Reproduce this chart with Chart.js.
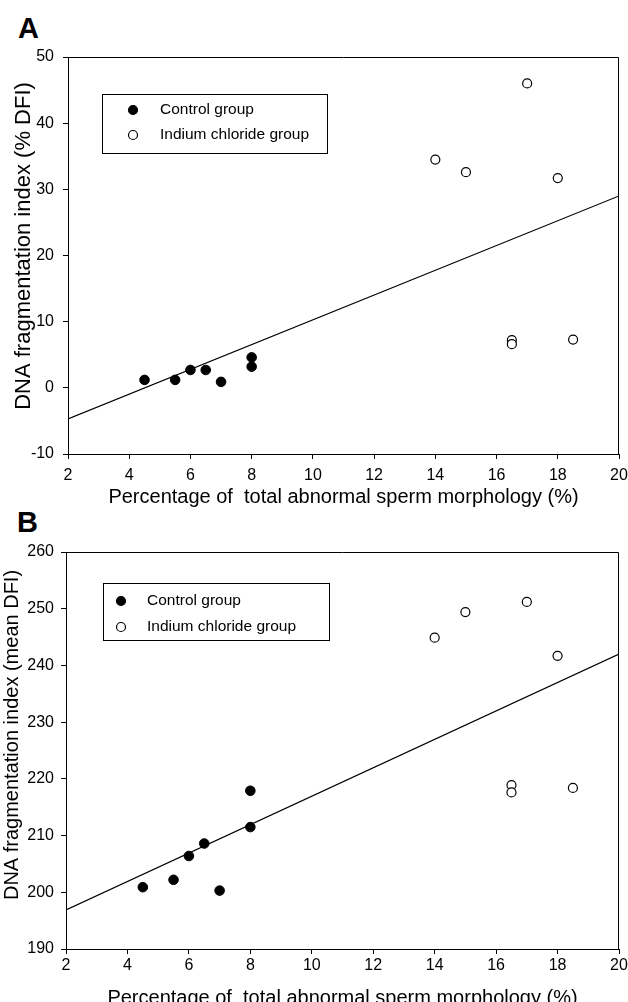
<!DOCTYPE html>
<html>
<head>
<meta charset="utf-8">
<script src="https://cdn.jsdelivr.net/npm/chart.js@4.4.1/dist/chart.umd.min.js"></script>
<style>
  html, body { margin: 0; padding: 0; background: #fff; overflow: hidden; }
  body { width: 628px; height: 1002px; position: relative; font-family: "Liberation Sans", Arial, sans-serif; }
  .panel { position: absolute; left: 0; }
  .tag { position: absolute; font-weight: bold; font-size: 29px; line-height: 29px; color: #000; }
</style>
</head>
<body>
<div class="tag" style="left:18px; top:14px">A</div>
<div class="tag" style="left:17px; top:508px">B</div>
<canvas id="chartA" class="panel" width="628" height="515" style="top:0"></canvas>
<canvas id="chartB" class="panel" width="628" height="520" style="top:500px"></canvas>
<script>
// morphology (%) on x, DNA fragmentation on y
const controlMorph = [4.5, 5.5, 6, 6.5, 7, 8, 8];
const indiumMorph = [14, 15, 16.5, 16.5, 17, 18, 18.5];
const controlPctDfi = [1.2, 1.2, 2.7, 2.7, 0.9, 4.6, 3.2];
const indiumPctDfi = [34.5, 32.6, 7.2, 6.6, 46.0, 31.7, 7.3];
const controlMeanDfi = [200.9, 202.2, 206.4, 208.6, 200.3, 217.9, 211.5];
const indiumMeanDfi = [244.9, 249.4, 218.9, 217.6, 251.2, 241.7, 218.4];
// regression line ends
const fitMorph = [2, 20];
const fitPctDfi = [-4.7, 29.0];
const fitMeanDfi = [196.9, 242.0];

const xTickValues = [2, 4, 6, 8, 10, 12, 14, 16, 18, 20];
const pctTickValues = [-10, 0, 10, 20, 30, 40, 50];
const meanTickValues = [190, 200, 210, 220, 230, 240, 250, 260];
const groupLabels = ['Control group', 'Indium chloride group'];
const xTitle = 'Percentage of  total abnormal sperm morphology (%)';

Chart.defaults.font.family = '"Liberation Sans", Arial, sans-serif';
Chart.defaults.color = '#000';

const toPoints = (xs, ys) => xs.map((x, i) => ({ x: x, y: ys[i] }));

const frame = {
  id: 'frame',
  afterDraw(chart) {
    const { ctx, chartArea: a } = chart;
    ctx.save();
    ctx.strokeStyle = '#000';
    ctx.lineWidth = 1;
    ctx.beginPath();
    ctx.moveTo(Math.round(a.left) + 0.5, Math.round(a.top) + 0.5);
    ctx.lineTo(Math.round(a.right) - 0.5, Math.round(a.top) + 0.5);
    ctx.lineTo(Math.round(a.right) - 0.5, Math.round(a.bottom));
    ctx.stroke();
    ctx.restore();
  }
};

const groupBox = {
  id: 'groupBox',
  afterDatasetsDraw(chart, args, opts) {
    const { ctx, chartArea } = chart;
    const left = Math.round(chartArea.left + opts.left), top = Math.round(chartArea.top + opts.top);
    ctx.save();
    ctx.fillStyle = '#fff';
    ctx.fillRect(left, top, opts.width, opts.height);
    ctx.strokeStyle = '#000';
    ctx.lineWidth = 1;
    ctx.strokeRect(left + 0.5, top + 0.5, opts.width, opts.height);
    ctx.font = '15.5px "Liberation Sans", Arial, sans-serif';
    ctx.textBaseline = 'middle';
    chart.data.datasets.slice(0, 2).forEach((ds, i) => {
      const y = top + opts.rows[i];
      ctx.beginPath();
      ctx.arc(left + opts.markerX, y, 4.5, 0, Math.PI * 2);
      ctx.fillStyle = ds.pointBackgroundColor;
      ctx.fill();
      ctx.strokeStyle = ds.pointBorderColor;
      ctx.lineWidth = 1.2;
      ctx.stroke();
      ctx.fillStyle = '#000';
      ctx.fillText(ds.label, left + opts.textX, y);
    });
    ctx.restore();
  }
};

const yTitle = {
  id: 'yTitle',
  afterDraw(chart, args, opts) {
    const ctx = chart.ctx;
    ctx.save();
    ctx.translate(opts.x, opts.y);
    ctx.rotate(-Math.PI / 2);
    ctx.font = opts.size + 'px "Liberation Sans", Arial, sans-serif';
    ctx.fillStyle = '#000';
    ctx.textAlign = 'center';
    ctx.textBaseline = 'middle';
    ctx.fillText(opts.text, 0, 0);
    ctx.restore();
  }
};

function makeChart(id, cfg) {
  return new Chart(document.getElementById(id), {
    type: 'scatter',
    data: {
      datasets: [
        { label: groupLabels[0], data: toPoints(controlMorph, cfg.control),
          pointRadius: 4.8, pointBackgroundColor: '#000', pointBorderColor: '#000', pointBorderWidth: 1 },
        { label: groupLabels[1], data: toPoints(indiumMorph, cfg.indium),
          pointRadius: 4.5, pointBackgroundColor: '#fff', pointBorderColor: '#000', pointBorderWidth: 1.2 },
        { type: 'line', label: 'fit', data: toPoints(fitMorph, cfg.fit),
          borderColor: '#000', borderWidth: 1.2, pointRadius: 0, fill: false }
      ]
    },
    options: {
      responsive: false,
      animation: false,
      devicePixelRatio: 1,
      layout: { padding: { top: cfg.padTop, right: 9, left: 0, bottom: 0 } },
      plugins: {
        legend: { display: false },
        tooltip: { enabled: false },
        groupBox: cfg.legend,
        yTitle: cfg.yTitle
      },
      scales: {
        x: {
          type: 'linear', min: 2, max: 20,
          afterBuildTicks: s => { s.ticks = xTickValues.map(v => ({ value: v })); },
          afterFit: s => { s.height = cfg.xHeight; s.paddingLeft = 0; s.paddingRight = 0; },
          grid: { display: true, drawOnChartArea: false, drawTicks: true, tickLength: 5, color: '#000' },
          border: { display: true, color: '#000', width: 1 },
          ticks: { font: { size: 16 }, padding: cfg.xPad, maxRotation: 0 },
          title: { display: true, text: xTitle, font: { size: 20 }, padding: { top: 0, bottom: cfg.xTitlePad } }
        },
        y: {
          type: 'linear', min: cfg.yTicks[0], max: cfg.yTicks[cfg.yTicks.length - 1],
          afterBuildTicks: s => { s.ticks = cfg.yTicks.map(v => ({ value: v })); },
          afterFit: s => { s.width = cfg.yWidth; s.paddingTop = 0; s.paddingBottom = 0; },
          grid: { display: true, drawOnChartArea: false, drawTicks: true, tickLength: 5, color: '#000' },
          border: { display: true, color: '#000', width: 1 },
          ticks: { font: { size: 16 }, padding: cfg.yPad }
        }
      }
    },
    plugins: [frame, groupBox, yTitle]
  });
}

makeChart('chartA', {
  control: controlPctDfi, indium: indiumPctDfi, fit: fitPctDfi, yTicks: pctTickValues,
  padTop: 57, xHeight: 61, yWidth: 68, xPad: 7, yPad: 9, xTitlePad: 6,
  legend: { left: 34, top: 37, width: 225, height: 59, markerX: 31, textX: 58, rows: [16, 41] },
  yTitle: { text: 'DNA fragmentation index (% DFI)', size: 22, x: 24, y: 246 }
});

makeChart('chartB', {
  control: controlMeanDfi, indium: indiumMeanDfi, fit: fitMeanDfi, yTicks: meanTickValues,
  padTop: 52, xHeight: 71, yWidth: 66, xPad: 2, yPad: 7, xTitlePad: 10,
  legend: { left: 37, top: 31, width: 226, height: 57, markerX: 18, textX: 44, rows: [18, 44] },
  yTitle: { text: 'DNA fragmentation index (mean DFI)', size: 20, x: 12.5, y: 235 }
});
</script>
</body>
</html>
